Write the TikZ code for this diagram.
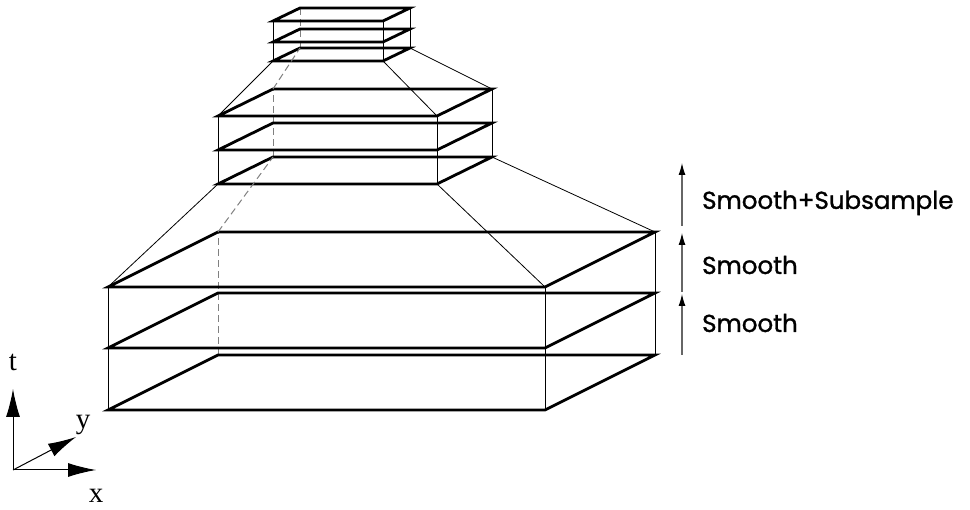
\documentclass[tikz,border=0pt]{standalone}
\usepackage{fontspec}
\setmainfont{Liberation Serif}
\newfontfamily\lblfont{Poppins}[FakeBold=1.2]
\usetikzlibrary{arrows.meta,calc}
\tikzset{
  layer/.style={line width=2.8pt, line join=miter},
  edge/.style={line width=1pt},
  hidden/.style={line width=1pt, gray, dash pattern=on 7pt off 4pt},
  link/.style={line width=0.8pt},
  stepar/.style={line width=1.1pt, gray!80!black, -{Latex[length=12pt,width=7pt,black]}},
  axis/.style={line width=1pt, -{Latex[length=28pt,width=14pt]}},
  steplbl/.style={font=\lblfont\fontsize{24.5}{28}\selectfont, anchor=west, inner sep=0pt},
  axlbl/.style={font=\fontsize{29}{31}\selectfont, inner sep=0pt}
}
% \pyrbox{name}{front-left x}{front-right x}{y0}{y1}{y2}{dx}{dy}
\newcommand{\pyrbox}[8]{%
  \coordinate (#1-L0) at (#2,#4);
  \coordinate (#1-L1) at (#2,#5);
  \coordinate (#1-L2) at (#2,#6);
  \coordinate (#1-R0) at (#3,#4);
  \coordinate (#1-R1) at (#3,#5);
  \coordinate (#1-R2) at (#3,#6);
  \coordinate (#1-BL0) at ($(#1-L0)+(#7,#8)$);
  \coordinate (#1-BL1) at ($(#1-L1)+(#7,#8)$);
  \coordinate (#1-BL2) at ($(#1-L2)+(#7,#8)$);
  \coordinate (#1-BR0) at ($(#1-R0)+(#7,#8)$);
  \coordinate (#1-BR1) at ($(#1-R1)+(#7,#8)$);
  \coordinate (#1-BR2) at ($(#1-R2)+(#7,#8)$);
  \draw[hidden] (#1-BL0) -- (#1-BL2);
  \draw[edge] (#1-L0) -- (#1-L2);
  \draw[edge] (#1-R0) -- (#1-R2);
  \draw[edge] (#1-BR0) -- (#1-BR2);
  \foreach \k in {0,1,2}{
    \draw[layer] (#1-L\k) -- (#1-R\k) -- (#1-BR\k) -- (#1-BL\k) -- cycle;
  }%
}
\begin{document}
\begin{tikzpicture}[x=1pt,y=-1pt]
\useasboundingbox (0,0) rectangle (970,510);

\pyrbox{b}{108}{545}{410}{348}{287}{110}{-55}
\pyrbox{m}{218}{437}{184}{150}{116}{55}{-27}
\pyrbox{s}{273}{383}{61}{42}{21}{27}{-13}

% connectors between levels
\draw[link] (b-L2) -- (m-L0);
\draw[link] (b-R2) -- (m-R0);
\draw[link] (b-BR2) -- (m-BR0);
\draw[hidden] (b-BL2) -- (m-BL0);
\draw[link] (m-L2) -- (s-L0);
\draw[link] (m-R2) -- (s-R0);
\draw[link] (m-BR2) -- (s-BR0);
\draw[hidden] (m-BL2) -- (s-BL0);

% step arrows
\coordinate (a0) at (682,355);
\coordinate (a1) at (682,294);
\coordinate (a1s) at (682,292);
\coordinate (a2) at (682,233);
\coordinate (a2s) at (682,226);
\coordinate (a3) at (682,163);
\draw[stepar] (a0) -- (a1);
\draw[stepar] (a1s) -- (a2);
\draw[stepar] (a2s) -- (a3);
\node[steplbl] (l3) at (702,203) {Smooth+Subsample};
\node[steplbl] (l2) at (702,265) {Smooth};
\node[steplbl] (l1) at (702,323) {Smooth};

% axes
\coordinate (O) at (13,470);
\coordinate (T) at (13,389);
\coordinate (X) at (96,470);
\coordinate (Y) at (76,437);
\draw[axis] (O) -- (T);
\draw[axis] (O) -- (X);
\draw[axis] (O) -- (Y);
\node[axlbl] (tl) at (13,362) {t};
\node[axlbl] (yl) at (83,425) {y};
\node[axlbl] (xl) at (96,496) {x};
\end{tikzpicture}
\end{document}
